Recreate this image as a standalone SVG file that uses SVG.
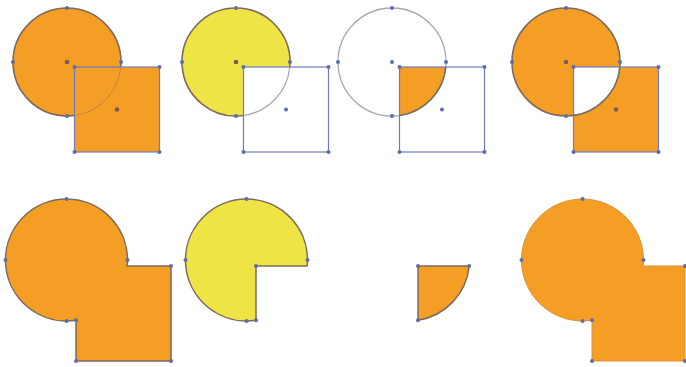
<svg xmlns="http://www.w3.org/2000/svg" width="686" height="367" viewBox="0 0 686 367">
<style>
.or{fill:#F59E26}
.ye{fill:#EFE446}
.cs{fill:none;stroke:#7c6a5c;stroke-width:1.6}
.cl{fill:none;stroke:#a9a7b2;stroke-width:1.3}
.sq{fill:none;stroke:#6f7dbf;stroke-width:1.2}
.ed{stroke:#7c6a5c;stroke-width:1.5;stroke-linejoin:round}
.dt{fill:#5d6cab}
.dc{fill:#7a5a55}
</style>
<defs>
<circle id="d" r="2" class="dt"/>
<circle id="c" r="2.3" class="dc"/>
</defs>
<rect width="686" height="367" fill="#ffffff"/>

<g id="top-add" transform="translate(67,62)">
<circle r="54" class="or"/>
<circle r="54" class="cs"/>
<rect x="7.5" y="5" width="85" height="85" class="or"/>
<path d="M53.77,5 A54 54 0 0 1 7.5,53.48" fill="none" stroke="#c98a3a" stroke-width="1.1"/>
<rect x="7.5" y="5" width="85" height="85" class="sq"/>
<use href="#d" x="0" y="-54"/><use href="#d" x="-54" y="0"/><use href="#d" x="54" y="0"/><use href="#d" x="0" y="54"/>
<use href="#c" x="0" y="0"/>
<use href="#d" x="7.5" y="5"/><use href="#d" x="92.5" y="5"/><use href="#d" x="7.5" y="90"/><use href="#d" x="92.5" y="90"/>
<use href="#c" x="50" y="47.5"/>
</g>

<g id="top-minus" transform="translate(236,62)">
<path d="M7.5,5 L53.77,5 A54 54 0 1 0 7.5,53.48 Z" class="ye"/>
<path d="M53.77,5 A54 54 0 1 0 7.5,53.48" class="cs"/>
<path d="M53.77,5 A54 54 0 0 1 7.5,53.48" class="cl"/>
<rect x="7.5" y="5" width="85" height="85" class="sq"/>
<use href="#d" x="0" y="-54"/><use href="#d" x="-54" y="0"/><use href="#d" x="54" y="0"/><use href="#d" x="0" y="54"/>
<use href="#c" x="0" y="0"/>
<use href="#d" x="7.5" y="5"/><use href="#d" x="92.5" y="5"/><use href="#d" x="7.5" y="90"/><use href="#d" x="92.5" y="90"/>
<use href="#d" x="50" y="47.5"/>
</g>

<g id="top-intersect" transform="translate(392,62)">
<path d="M7.5,5 L53.77,5 A54 54 0 0 1 7.5,53.48 Z" class="or"/>
<circle r="54" class="cl"/>
<path d="M53.77,5 A54 54 0 0 1 7.5,53.48" class="cs"/>
<rect x="7.5" y="5" width="85" height="85" class="sq"/>
<use href="#d" x="0" y="-54"/><use href="#d" x="-54" y="0"/><use href="#d" x="54" y="0"/><use href="#d" x="0" y="54"/>
<use href="#d" x="0" y="0"/>
<use href="#d" x="7.5" y="5"/><use href="#d" x="92.5" y="5"/><use href="#d" x="7.5" y="90"/><use href="#d" x="92.5" y="90"/>
<use href="#d" x="50" y="47.5"/>
</g>

<g id="top-exclude" transform="translate(566,62)">
<path d="M54,0 A54 54 0 1 0 -54,0 A54 54 0 1 0 54,0 Z M7.5,5 H92.5 V90 H7.5 Z" class="or" fill-rule="evenodd"/>
<circle r="54" class="cs"/>
<rect x="7.5" y="5" width="85" height="85" class="sq"/>
<use href="#d" x="0" y="-54"/><use href="#d" x="-54" y="0"/><use href="#d" x="54" y="0"/><use href="#d" x="0" y="54"/>
<use href="#c" x="0" y="0"/>
<use href="#d" x="7.5" y="5"/><use href="#d" x="92.5" y="5"/><use href="#d" x="7.5" y="90"/><use href="#d" x="92.5" y="90"/>
<use href="#c" x="50" y="47.5"/>
</g>

<g id="bottom-union" transform="translate(66.5,260)">
<path d="M60.7,6 H104.5 V101 H9.5 V60.26 A61 61 0 1 1 60.7,6 Z" class="or ed"/>
<use href="#d" x="0" y="-61"/><use href="#d" x="-61" y="0"/><use href="#d" x="61" y="0"/><use href="#d" x="0" y="61"/>
<use href="#d" x="9.5" y="60.26"/>
<use href="#d" x="104.5" y="6"/><use href="#d" x="104.5" y="101"/><use href="#d" x="9.5" y="101"/>
</g>

<g id="bottom-minus" transform="translate(246.5,260)">
<path d="M9.5,6 L60.7,6 A61 61 0 1 0 9.5,60.26 Z" class="ye ed"/>
<use href="#d" x="0" y="-61"/><use href="#d" x="-61" y="0"/><use href="#d" x="61" y="0"/><use href="#d" x="0" y="61"/>
<use href="#d" x="9.5" y="60.26"/><use href="#d" x="9.5" y="6"/>
</g>

<g id="bottom-intersect" transform="translate(408.5,260)">
<path d="M9.5,6 L60.7,6 A61 61 0 0 1 9.5,60.26 Z" class="or ed"/>
<use href="#d" x="9.5" y="6"/><use href="#d" x="60.7" y="6"/><use href="#d" x="9.5" y="60.26"/>
</g>

<g id="bottom-union-2" transform="translate(582.5,260)">
<path d="M60.7,6 H102.5 V101 H9.5 V60.26 A61 61 0 1 1 60.7,6 Z" class="or" stroke="#d9913a" stroke-width="1"/>
<use href="#d" x="0" y="-61"/><use href="#d" x="-61" y="0"/><use href="#d" x="61" y="0"/><use href="#d" x="0" y="61"/>
<use href="#d" x="9.5" y="60.26"/>
<use href="#d" x="102.5" y="6"/><use href="#d" x="102.5" y="101"/><use href="#d" x="9.5" y="101"/>
</g>
</svg>
